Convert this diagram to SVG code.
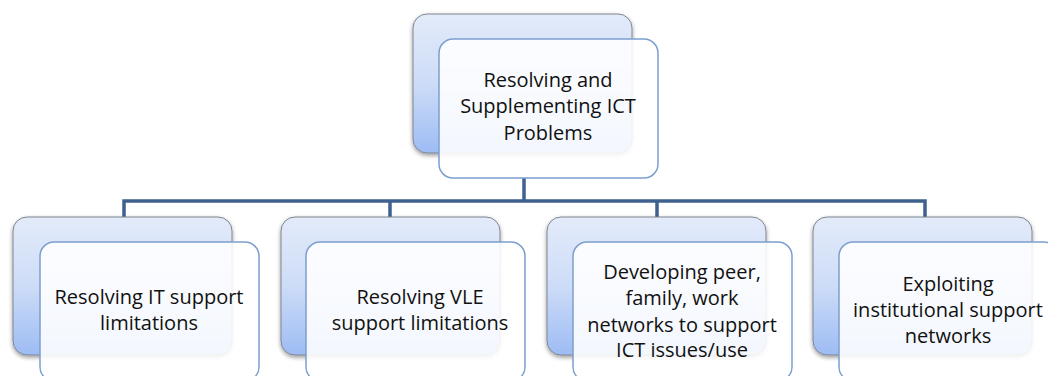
<svg xmlns="http://www.w3.org/2000/svg" width="1048" height="376" viewBox="0 0 1048 376">
<defs>
<linearGradient id="gback" x1="0" y1="0" x2="0" y2="1">
<stop offset="0" stop-color="#e3ebfa"/>
<stop offset="0.5" stop-color="#cddcf7"/>
<stop offset="1" stop-color="#9dbcf4"/>
</linearGradient>
<filter id="sh" x="-10%" y="-10%" width="130%" height="130%">
<feDropShadow dx="0" dy="2" stdDeviation="2" flood-color="#000" flood-opacity="0.4"/>
</filter>
</defs>
<style>
.back{fill:url(#gback);stroke:#80858f;stroke-width:1;filter:url(#sh)}
.front{fill:#ffffff;fill-opacity:0.88;stroke:#7c9fcf;stroke-width:1.5}
.conn{fill:none;stroke:#3f6190;stroke-width:3.5}
text{font-family:"Open Sans","Liberation Sans",Arial,sans-serif;font-size:20px;fill:#111;text-anchor:middle}
</style>
<rect width="1048" height="376" fill="#fff"/>
<g id="connectors">
<path class="conn" d="M524 178 V201 M124 217 V201 H925 V217 M390 201 V217 M657 201 V217"/>
</g>
<g id="n0">
<rect class="back" x="413" y="14" width="219" height="139" rx="14"/>
<rect class="front" x="439" y="39" width="219" height="139" rx="14"/>
<text x="548" y="87">Resolving and</text>
<text x="548" y="113">Supplementing ICT</text>
<text x="548" y="140">Problems</text>
</g>
<g id="n1">
<rect class="back" x="13" y="217" width="219" height="138" rx="14"/>
<rect class="front" x="40" y="242" width="219" height="139" rx="14"/>
<text x="149" y="304">Resolving IT support</text>
<text x="149" y="330">limitations</text>
</g>
<g id="n2">
<rect class="back" x="281" y="217" width="219" height="138" rx="14"/>
<rect class="front" x="306" y="242" width="219" height="139" rx="14"/>
<text x="420" y="304">Resolving VLE</text>
<text x="420" y="330">support limitations</text>
</g>
<g id="n3">
<rect class="back" x="547" y="217" width="219" height="138" rx="14"/>
<rect class="front" x="573" y="242" width="219" height="139" rx="14"/>
<text x="682" y="279">Developing peer,</text>
<text x="682" y="305">family, work</text>
<text x="682" y="332">networks to support</text>
<text x="682" y="357">ICT issues/use</text>
</g>
<g id="n4">
<rect class="back" x="813" y="217" width="219" height="138" rx="14"/>
<rect class="front" x="839" y="242" width="219" height="139" rx="14"/>
<text x="948" y="291">Exploiting</text>
<text x="948" y="317">institutional support</text>
<text x="948" y="343">networks</text>
</g>
</svg>
